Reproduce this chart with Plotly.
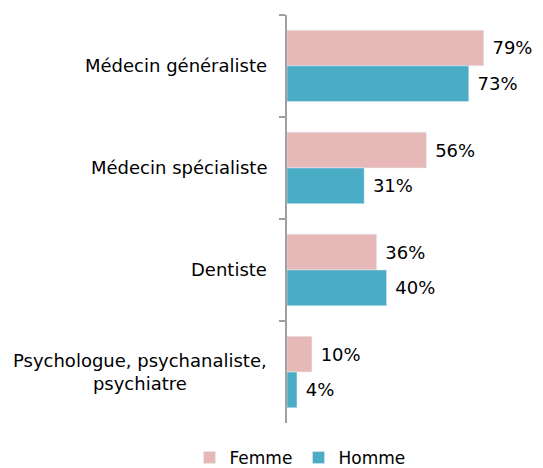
import plotly.graph_objects as go

categories = ["Médecin généraliste", "Médecin spécialiste", "Dentiste",
              "Psychologue, psychanaliste,<br>psychiatre"]
femme = [79, 56, 36, 10]
homme = [73, 31, 40, 4]
labels_f = [f" {v}%" for v in femme]
labels_h = [f" {v}%" for v in homme]

FONT = "DejaVu Sans"
W, H = 543, 468

fig = go.Figure()
fig.add_trace(go.Bar(y=categories, x=femme, name="Femme", orientation="h",
                     marker=dict(color="#E6B9B8"), text=labels_f,
                     textposition="outside", cliponaxis=False,
                     textfont=dict(size=18, color="#000000", family=FONT)))
fig.add_trace(go.Bar(y=categories, x=homme, name="Homme", orientation="h",
                     marker=dict(color="#4BACC6"), text=labels_h,
                     textposition="outside", cliponaxis=False,
                     textfont=dict(size=18, color="#000000", family=FONT)))

# category labels, lines centred as in the reference
for c in categories:
    fig.add_annotation(x=261 / W, xref="paper", xanchor="right", y=c, yref="y",
                       text=c, showarrow=False, align="center",
                       font=dict(size=18, family=FONT, color="#000000"))

fig.update_layout(
    width=W, height=H,
    margin=dict(l=0, r=0, t=0, b=0),
    barmode="group", bargap=0.3, bargroupgap=0,
    plot_bgcolor="white", paper_bgcolor="white",
    font=dict(family=FONT, size=17, color="#000000"),
    legend=dict(orientation="h", x=0.535, xanchor="center", y=(H - 462) / H, yanchor="middle",
                font=dict(size=17), traceorder="normal", entrywidth=64,
                entrywidthmode="pixels"),
    uniformtext=dict(mode=False),
)
fig.update_xaxes(range=[0, 100], visible=False, domain=[279 / W, 528 / W])
fig.update_yaxes(autorange="reversed", showline=True, linecolor="#A0A0A0", linewidth=2,
                 ticks="outside", ticklen=6, tickcolor="#A0A0A0", tickwidth=2,
                 tickson="boundaries", showticklabels=False, showgrid=False,
                 automargin=False, domain=[(H - 426) / H, (H - 7) / H])

fig.write_html("out.html")
